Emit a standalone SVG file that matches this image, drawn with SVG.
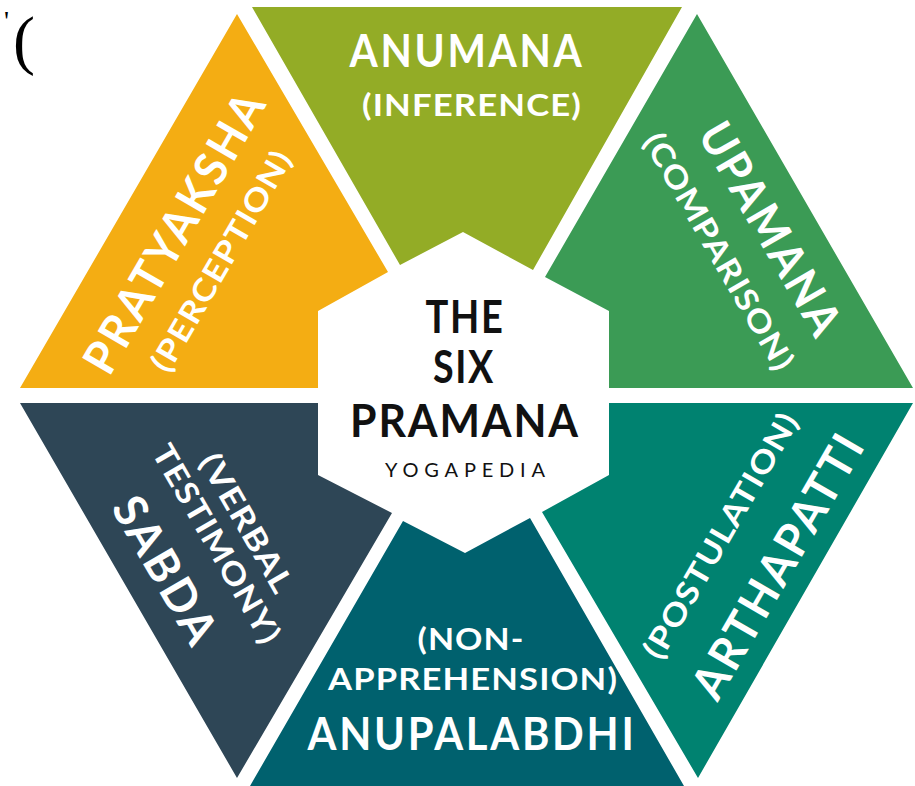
<svg xmlns="http://www.w3.org/2000/svg" width="915" height="786" viewBox="0 0 915 786">
<style>
.t{font-family:Lato,"Open Sans","DejaVu Sans",sans-serif;font-weight:700;fill:#fff;text-anchor:middle}
.h{font-size:46px;letter-spacing:3px}
.s{font-size:31px;letter-spacing:1px}
.c{font-family:Lato,"Open Sans","DejaVu Sans",sans-serif;font-weight:700;fill:#111;text-anchor:middle;font-size:46px;letter-spacing:2px}
.y{font-family:Lato,"Open Sans","DejaVu Sans",sans-serif;font-weight:400;fill:#111;text-anchor:middle;font-size:20px}
</style>
<rect width="915" height="786" fill="#fff"/>
<text x="13" y="62" font-family="Liberation Serif,serif" font-size="66" fill="#000">(</text>
<text x="4" y="30" font-family="Liberation Serif,serif" font-size="28" fill="#000">'</text>
<g id="pratyaksha">
<polygon points="237,14 388,272 318,311 318,388 20,388" fill="#F4AD13"/>
<g transform="translate(175,231.7) rotate(-60)">
<text class="t h" x="0" y="16" textLength="318" lengthAdjust="spacingAndGlyphs">PRATYAKSHA</text>
<text class="t s" x="-2" y="65.6" textLength="250" lengthAdjust="spacingAndGlyphs">(PERCEPTION)</text>
</g>
</g>
<g id="anumana">
<polygon points="252,7 682,7 533,270 463,232 400,265" fill="#93AC26"/>
<text class="t h" x="467" y="67" textLength="235" lengthAdjust="spacingAndGlyphs">ANUMANA</text>
<text class="t s" x="472" y="116" textLength="220" lengthAdjust="spacingAndGlyphs">(INFERENCE)</text>
</g>
<g id="upamana">
<polygon points="697,14 913,388 609,388 609,311 545,277" fill="#3B9B55"/>
<g transform="translate(770.8,230) rotate(60)">
<text class="t h" x="0" y="16" textLength="240" lengthAdjust="spacingAndGlyphs">UPAMANA</text>
<text class="t s" x="-7" y="66.7" textLength="269" lengthAdjust="spacingAndGlyphs">(COMPARISON)</text>
</g>
</g>
<g id="arthapatti">
<polygon points="609,403 913,403 698,778 542,512 609,475" fill="#008270"/>
<g transform="translate(720.7,535.3) rotate(-60)">
<text class="t s" x="0" y="11" textLength="279" lengthAdjust="spacingAndGlyphs">(POSTULATION)</text>
<text class="t h" x="3" y="81" textLength="299" lengthAdjust="spacingAndGlyphs">ARTHAPATTI</text>
</g>
</g>
<g id="anupalabdhi">
<polygon points="403,521 465,553 530,518 684,786 250,786" fill="#00616E"/>
<text class="t s" x="471" y="650" textLength="107" lengthAdjust="spacingAndGlyphs">(NON-</text>
<text class="t s" x="473" y="690" textLength="290" lengthAdjust="spacingAndGlyphs">APPREHENSION)</text>
<text class="t h" x="472" y="750" textLength="329" lengthAdjust="spacingAndGlyphs">ANUPALABDHI</text>
</g>
<g id="sabda">
<polygon points="20,403 318,403 318,475 392,513 237,778" fill="#2E4656"/>
<g transform="translate(246.7,523.3) rotate(60)">
<text class="t s" x="0" y="11" textLength="156" lengthAdjust="spacingAndGlyphs">(VERBAL</text>
<text class="t s" x="3" y="47.4" textLength="225" lengthAdjust="spacingAndGlyphs">TESTIMONY)</text>
<text class="t h" x="1" y="110.2" textLength="165" lengthAdjust="spacingAndGlyphs">SABDA</text>
</g>
</g>
<g id="center">
<polygon points="463,232 609,311 609,476 465,553 318,476 318,311" fill="#fff" fill-opacity="0"/>
<text class="c" x="465" y="333" textLength="79" lengthAdjust="spacingAndGlyphs">THE</text>
<text class="c" x="464" y="383" textLength="62" lengthAdjust="spacingAndGlyphs">SIX</text>
<text class="c" x="465" y="437" textLength="230" lengthAdjust="spacingAndGlyphs">PRAMANA</text>
<text class="y" x="465" y="477" textLength="160" lengthAdjust="spacing">YOGAPEDIA</text>
</g>
<g id="connectors"/>
</svg>
